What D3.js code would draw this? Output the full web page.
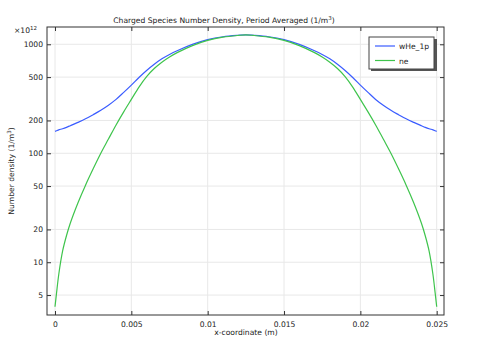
<!DOCTYPE html>
<html><head><meta charset="utf-8">
<script src="https://cdn.jsdelivr.net/npm/d3@7"></script>
<style>body{margin:0;background:#fff}svg{display:block}text{font-family:"DejaVu Sans",sans-serif;fill:#222}</style>
</head><body><svg id="c" width="479" height="339"></svg>
<script>
const xValues = [0,0.0001,0.00025,0.0005,0.00075,0.001,0.0015,0.002,0.0025,0.003,0.0035,0.004,0.0045,0.005,0.0055,0.006,0.0065,0.007,0.0075,0.008,0.009,0.010,0.011,0.012,0.0125,
  0.013,0.014,0.015,0.016,0.017,0.0175,0.018,0.0185,0.019,0.0195,0.020,0.0205,0.021,0.0215,0.022,0.0225,0.023,0.0235,0.024,0.02425,0.0245,0.02475,0.0249,0.025];
const wHe_1p = [159,161,164,168,173,179,192,207,226,248,276,312,362,422,496,575,656,736,807,873,998,1104,1173,1209,1220,
  1209,1173,1104,998,873,807,736,656,575,496,422,362,312,276,248,226,207,192,179,173,168,164,161,159];
const ne = [3.9,5.2,7.8,12.7,17.5,22.8,35,51,72,100,135,182,240,312,405,505,599,684,764,838,973,1085,1162,1206,1220,
  1206,1162,1085,973,838,764,684,599,505,405,312,240,182,135,100,72,51,35,22.8,17.5,12.7,7.8,5.2,3.9];
const xTicks = [0,0.005,0.01,0.015,0.02,0.025];
const xTickLabels = ["0","0.005","0.01","0.015","0.02","0.025"];
const yTicks = [5,10,20,50,100,200,500,1000];
const seriesNames = ["wHe_1p","ne"];
const seriesColors = ["#3a5cff","#3ec44c"];

const L=47,R=444,T=27,B=315;
const svg=d3.select("#c");
const x=d3.scaleLinear().domain([-0.000524,0.025478]).range([L,R]);
const y=d3.scaleLog().domain([3.28,1441]).range([B,T]);

// grid
const g=svg.append("g");
g.selectAll(".gx").data(xTicks).join("line").attr("x1",d=>x(d)).attr("x2",d=>x(d)).attr("y1",T).attr("y2",B).attr("stroke","#e8e8e8").attr("stroke-width",1);
g.selectAll(".gy").data(yTicks).join("line").attr("x1",L).attr("x2",R).attr("y1",d=>y(d)).attr("y2",d=>y(d)).attr("stroke","#e8e8e8").attr("stroke-width",1);

// lines
const line=d3.line().x((d,i)=>x(xValues[i])).y(d=>y(d)).curve(d3.curveCatmullRom.alpha(0.5));
[wHe_1p,ne].forEach((s,k)=>{
  svg.append("path").attr("d",line(s)).attr("fill","none").attr("stroke",seriesColors[k]).attr("stroke-width",1.2);
});

// axes (ticks inward)
const fmtX=(d,i)=>xTickLabels[i];
const ax=svg.append("g").attr("transform",`translate(0,${B})`).call(d3.axisBottom(x).tickValues(xTicks).tickFormat(fmtX).tickSizeInner(-4).tickSizeOuter(0).tickPadding(7));
const axT=svg.append("g").attr("transform",`translate(0,${T})`).call(d3.axisTop(x).tickValues(xTicks).tickFormat("").tickSizeInner(-4).tickSizeOuter(0));
const ay=svg.append("g").attr("transform",`translate(${L},0)`).call(d3.axisLeft(y).tickValues(yTicks).tickFormat(d3.format("d")).tickSizeInner(-4).tickSizeOuter(0).tickPadding(4));
const ayR=svg.append("g").attr("transform",`translate(${R},0)`).call(d3.axisRight(y).tickValues(yTicks).tickFormat("").tickSizeInner(-4).tickSizeOuter(0));
[ax,axT,ay,ayR].forEach(a=>{a.select(".domain").remove();a.selectAll("line").attr("stroke","#333");a.selectAll("text").attr("font-family","DejaVu Sans").attr("font-size",7.6).attr("fill","#222");});
svg.append("rect").attr("x",L).attr("y",T).attr("width",R-L).attr("height",B-T).attr("fill","none").attr("stroke","#333").attr("stroke-width",1);

// titles
svg.append("text").attr("x",224).attr("y",23).attr("text-anchor","middle").attr("font-size",7.6)
  .html('Charged Species Number Density, Period Averaged (1/m<tspan dy="-3" font-size="5.5">3</tspan><tspan dy="3">)</tspan>');
svg.append("text").attr("x",14).attr("y",33).attr("font-size",7.6).html('×10<tspan dy="-3" font-size="5.5">12</tspan>');
svg.append("text").attr("x",246).attr("y",335).attr("text-anchor","middle").attr("font-size",7.6).text("x-coordinate (m)");
svg.append("text").attr("transform",`translate(14,${(T+B)/2}) rotate(-90)`).attr("text-anchor","middle").attr("font-size",7.6)
  .html('Number density (1/m<tspan dy="-3" font-size="5.5">3</tspan><tspan dy="3">)</tspan>');

// legend
const lg=svg.append("g");
lg.append("rect").attr("x",371).attr("y",39).attr("width",66).attr("height",32).attr("fill","#555");
lg.append("rect").attr("x",369).attr("y",37).attr("width",65).attr("height",32).attr("fill","#fff").attr("stroke","#444").attr("stroke-width",1);
seriesNames.forEach((n,i)=>{
  const yy=46+i*14.5;
  lg.append("line").attr("x1",375).attr("x2",395).attr("y1",yy).attr("y2",yy).attr("stroke",seriesColors[i]).attr("stroke-width",1.2);
  lg.append("text").attr("x",399).attr("y",yy+3).attr("font-size",7.6).text(n);
});
</script></body></html>
